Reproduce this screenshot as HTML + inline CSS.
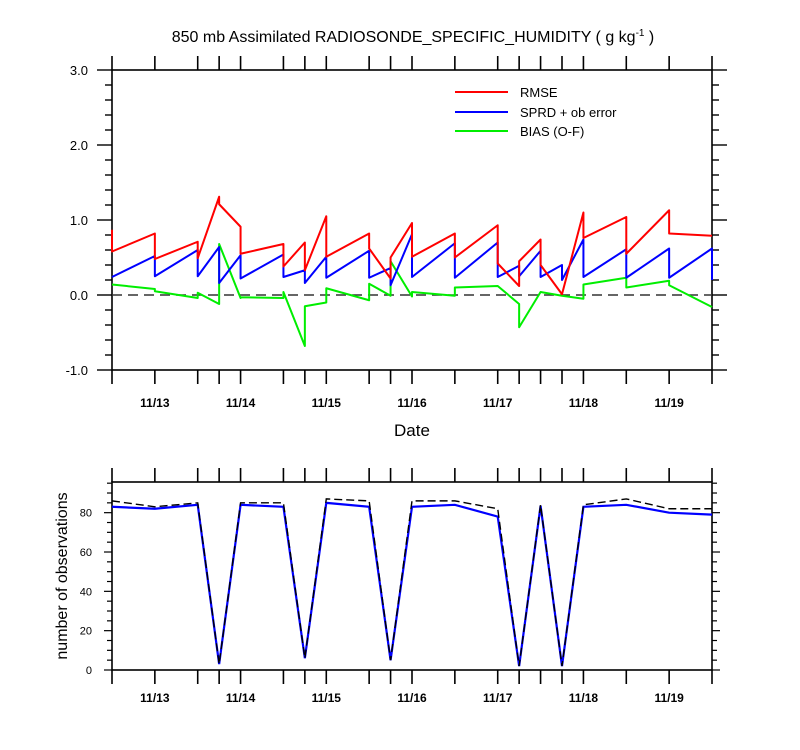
<!DOCTYPE html>
<html><head><meta charset="utf-8"><style>
html,body{margin:0;padding:0;background:#fff;width:800px;height:750px;overflow:hidden}
svg{display:block;font-family:"Liberation Sans",sans-serif}
</style></head><body>
<svg id="chart" width="800" height="750" viewBox="0 0 800 750">
<text x="413" y="42" text-anchor="middle" font-size="16">850 mb Assimilated RADIOSONDE_SPECIFIC_HUMIDITY ( g kg<tspan dy="-6" font-size="10">-1</tspan><tspan dy="6"> )</tspan></text>
<g id="topPanel"></g>
<g id="botPanel"></g>
<text x="412" y="436" text-anchor="middle" font-size="17">Date</text>
<text transform="translate(67,576) rotate(-90)" text-anchor="middle" font-size="16">number of observations</text>
<g>
<line x1="455" y1="92" x2="508" y2="92" stroke="#f00" stroke-width="2"/>
<text x="520" y="97" font-size="13">RMSE</text>
<line x1="455" y1="112" x2="508" y2="112" stroke="#00f" stroke-width="2"/>
<text x="520" y="117" font-size="13">SPRD + ob error</text>
<line x1="455" y1="131" x2="508" y2="131" stroke="#0e0" stroke-width="2"/>
<text x="520" y="136" font-size="13">BIAS (O-F)</text>
</g>
</svg>
<script>
// times in days since 11/12 12Z
const times=[0,0.5,1,1.25,1.5,2,2.25,2.5,3,3.25,3.5,4,4.5,4.75,5,5.25,5.5,6,6.5,7];
const dateLabels=["11/13","11/14","11/15","11/16","11/17","11/18","11/19"];
const dateDays=[0.5,1.5,2.5,3.5,4.5,5.5,6.5];
const rmseA=[0.87,0.82,0.71,1.31,0.91,0.68,0.70,1.05,0.82,0.22,0.96,0.82,0.93,0.12,0.74,0.01,1.10,1.04,1.13,0.79];
const rmseB=[0.58,0.48,0.49,1.21,0.55,0.38,0.33,0.51,0.62,0.50,0.51,0.50,0.42,0.45,0.40,0.01,0.76,0.55,0.82,0.79];
const sprdA=[0.24,0.52,0.60,0.64,0.53,0.54,0.33,0.51,0.59,0.36,0.81,0.69,0.70,0.39,0.59,0.40,0.74,0.61,0.62,0.62];
const sprdB=[0.24,0.25,0.25,0.16,0.22,0.24,0.16,0.23,0.23,0.13,0.24,0.23,0.24,0.25,0.24,0.20,0.24,0.23,0.23,0.20];
const biasA=[0.14,0.08,-0.04,-0.12,-0.04,-0.04,-0.68,-0.10,-0.07,-0.01,-0.02,-0.01,0.12,-0.12,0.04,-0.01,-0.05,0.23,0.19,-0.16];
const biasB=[0.14,0.05,0.03,0.68,-0.03,0.04,-0.15,0.09,0.15,0.45,0.04,0.10,0.12,-0.43,0.04,-0.01,0.14,0.10,0.13,-0.16];
const nUsed=[83,82,84,3,84,83,6,85,83,5,83,84,78,2,83.5,2,83,84,80,79];
const nTotal=[86,83,85,3,85,85,6,87,86,5,86,86,82,2,84,2,84,87,82,82];
const topTicks=["3.0","2.0","1.0","0.0","-1.0"];
const topTickVals=[3,2,1,0,-1];
const botTickVals=[0,20,40,60,80];

const NS="http://www.w3.org/2000/svg";
const X0=112,X1=712;
const xS=t=>X0+(X1-X0)*t/7;
const yT=v=>295-75*v;
const yB=v=>670-(670-482)*v/95.6;
function mk(tag,attrs,parent){const e=document.createElementNS(NS,tag);for(const k in attrs)e.setAttribute(k,attrs[k]);parent.appendChild(e);return e;}
const topG=document.getElementById('topPanel'), botG=document.getElementById('botPanel');

function frame(g,yTop,yBot,name){
  const r=mk('rect',{x:X0,y:yTop,width:X1-X0,height:yBot-yTop,fill:'none',stroke:'#000','stroke-width':1.6},g);
  
  
  times.forEach(t=>{
    const x=xS(t);
    const a=mk('line',{x1:x,x2:x,y1:yTop-14,y2:yTop,stroke:'#000','stroke-width':1.6},g);
    
    
    const b=mk('line',{x1:x,x2:x,y1:yBot,y2:yBot+14,stroke:'#000','stroke-width':1.6},g);
    
    
  });
}
frame(topG,70,370,'top');
frame(botG,482,670,'bottom');
[[topG,407],[botG,702]].forEach(([g,y])=>{
  dateLabels.forEach((d,i)=>{
    const t=mk('text',{x:xS(dateDays[i]),y:y,'text-anchor':'middle','font-size':12,'font-weight':'bold'},g);
    t.textContent=d;
    
    
  });
});
for(let v=-1;v<=3.001;v+=0.2){
  const major=Math.abs(v-Math.round(v))<0.01;
  const L=major?15:7;
  [[X0-L,X0],[X1,X1+L]].forEach(([a,b])=>{
    const l=mk('line',{x1:a,x2:b,y1:yT(v),y2:yT(v),stroke:'#000','stroke-width':1.4},topG);
    
    
  });
}
topTickVals.forEach((v,i)=>{
  const t=mk('text',{x:88,y:yT(v)+5,'text-anchor':'end','font-size':13},topG);
  t.textContent=topTicks[i];
  
  
});
const zl=mk('line',{x1:X0,x2:X1,y1:yT(0),y2:yT(0),stroke:'#333','stroke-width':1.6,'stroke-dasharray':'10,6'},topG);


function saw(A,B,color,name){
  let d='';
  times.forEach((t,i)=>{d+=(i?'L':'M')+xS(t)+','+yT(A[i])+'L'+xS(t)+','+yT(B[i]);});
  const p=mk('path',{d:d,fill:'none',stroke:color,'stroke-width':2,'stroke-linejoin':'round'},topG);
  
  
}
saw(biasA,biasB,'#0e0','bias-line');
saw(sprdA,sprdB,'#00f','sprd-line');
saw(rmseA,rmseB,'#f00','rmse-line');
for(let v=0;v<=95;v+=5){
  const major=v%20===0;
  const L=major?8:5;
  [[X0-L,X0],[X1,X1+L]].forEach(([a,b])=>{
    const l=mk('line',{x1:a,x2:b,y1:yB(v),y2:yB(v),stroke:'#000','stroke-width':1.2},botG);
    
    
  });
}
botTickVals.forEach(v=>{
  const t=mk('text',{x:92,y:yB(v)+4,'text-anchor':'end','font-size':11},botG);
  t.textContent=String(v);
  
  
});
function poly(arr,attrs,name){
  const pts=times.map((t,i)=>xS(t)+','+yB(arr[i])).join(' ');
  attrs.points=pts;attrs.fill='none';
  const p=mk('polyline',attrs,botG);
  
  
}
poly(nUsed,{stroke:'#00f','stroke-width':2.2},'obs-used-line');
poly(nTotal,{stroke:'#000','stroke-width':1.4,'stroke-dasharray':'8,4'},'obs-total-line');
</script>
</body></html>
